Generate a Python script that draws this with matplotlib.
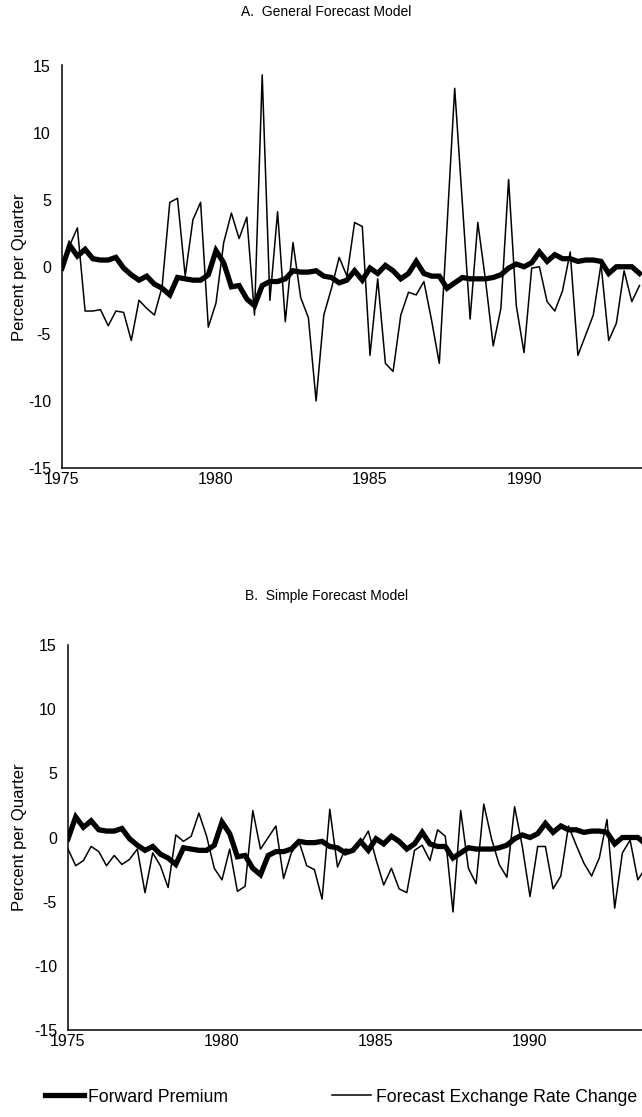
import matplotlib
matplotlib.use("Agg")
import matplotlib.pyplot as plt
import numpy as np

plt.rcParams['font.family'] = ['Liberation Sans', 'DejaVu Sans']
plt.rcParams['axes.unicode_minus'] = False

# quarterly observations, 1975Q1 .. 1993Q4
quarters = np.arange(1975, 1994, 0.25)

# forward premium (same series in both panels)
forward_premium = [
    -0.1, 1.6, 0.8, 1.3, 0.6, 0.5, 0.5, 0.7, -0.1, -0.6,
    -1.0, -0.7, -1.3, -1.6, -2.1, -0.8, -0.9, -1.0, -1.0, -0.6,
    1.2, 0.3, -1.5, -1.4, -2.4, -2.9, -1.4, -1.1, -1.1, -0.9,
    -0.3, -0.4, -0.4, -0.3, -0.7, -0.8, -1.2, -1.0, -0.3, -1.0,
    -0.1, -0.5, 0.1, -0.3, -0.9, -0.5, 0.4, -0.5, -0.7, -0.7,
    -1.6, -1.2, -0.8, -0.9, -0.9, -0.9, -0.8, -0.6, -0.1, 0.2,
    0.0, 0.3, 1.1, 0.4, 0.9, 0.6, 0.6, 0.4, 0.5, 0.5,
    0.4, -0.5, 0.0, 0.0, 0.0, -0.5,
]

# forecast exchange rate change, general forecast model
forecast_general = [
    -0.1, 1.6, 2.9, -3.3, -3.3, -3.2, -4.4, -3.3, -3.4, -5.5,
    -2.5, -3.1, -3.6, -1.5, 4.8, 5.1, -0.7, 3.5, 4.8, -4.5,
    -2.7, 1.8, 4.0, 2.1, 3.7, -3.6, 14.3, -2.5, 4.1, -4.1,
    1.8, -2.3, -3.8, -10.0, -3.6, -1.6, 0.7, -0.7, 3.3, 3.0,
    -6.6, -0.9, -7.2, -7.8, -3.6, -1.9, -2.1, -1.1, -4.0, -7.2,
    3.0, 13.3, 4.7, -3.9, 3.3, -1.0, -5.9, -3.1, 6.5, -2.9,
    -6.4, -0.1, 0.0, -2.6, -3.3, -1.8, 1.1, -6.6, -5.1, -3.6,
    0.2, -5.5, -4.2, -0.3, -2.6, -1.4,
]

# forecast exchange rate change, simple forecast model
forecast_simple = [
    -0.9, -2.2, -1.8, -0.7, -1.1, -2.2, -1.4, -2.1, -1.7, -0.9,
    -4.3, -1.2, -2.2, -3.9, 0.2, -0.3, 0.1, 1.9, 0.1, -2.4,
    -3.3, -0.9, -4.2, -3.8, 2.1, -0.9, 0.0, 0.9, -3.2, -1.2,
    -0.3, -2.2, -2.5, -4.8, 2.2, -2.3, -0.9, -1.0, -0.5, 0.5,
    -1.7, -3.7, -2.4, -4.0, -4.3, -1.0, -0.6, -1.8, 0.6, 0.1,
    -5.8, 2.1, -2.4, -3.6, 2.6, -0.1, -2.1, -3.1, 2.4, -0.7,
    -4.6, -0.7, -0.7, -4.0, -3.0, 0.9, -0.6, -2.0, -3.0, -1.6,
    1.4, -5.5, -1.2, -0.2, -3.3, -2.4,
]

year_ticks = [1975, 1980, 1985, 1990]
value_ticks = [-15, -10, -5, 0, 5, 10, 15]

W, H = 642, 1117
fig = plt.figure(figsize=(W / 100, H / 100), dpi=100)

panels = [
    ("A.  General Forecast Model", forecast_general, [62 / W, 1 - 468 / H, 1 - 62 / W, 402.5 / H], 1 - 12 / H),
    ("B.  Simple Forecast Model", forecast_simple, [68 / W, 1 - 1030 / H, 1 - 68 / W, 385 / H], 1 - 596 / H),
]

for title, forecast, rect, title_y in panels:
    ax = fig.add_axes(rect)
    ax.plot(quarters, forward_premium, color='black', lw=3.8, solid_joinstyle='miter')
    ax.plot(quarters, forecast, color='black', lw=1.1)
    ax.set_xlim(1975, 1975 + (1 - rect[0]) * W / 30.8)
    ax.set_ylim(-15, 15)
    ax.set_xticks(year_ticks)
    ax.set_yticks(value_ticks)
    ax.tick_params(length=0, labelsize=11.5)
    ax.tick_params(axis='x', pad=3)
    ax.tick_params(axis='y', pad=8)
    for side in ['top', 'right']:
        ax.spines[side].set_visible(False)
    for side in ['left', 'bottom']:
        ax.spines[side].set_linewidth(1.1)
    ax.set_ylabel('Percent per Quarter', fontsize=12)
    ax.yaxis.set_label_coords((27 - rect[0] * W) / (rect[2] * W), 0.5)
    fig.text(0.508, title_y, title, ha='center', va='center', fontsize=10)

handles = [
    plt.Line2D([], [], color='black', lw=3.8),
    plt.Line2D([], [], color='black', lw=1.1),
]
fig.legend(handles, ['Forward Premium', 'Forecast Exchange Rate Change'],
           loc='center left', bbox_to_anchor=(45 / W, 1 - 1097 / H), ncol=2,
           frameon=False, fontsize=12.7, handlelength=2.2, handletextpad=0.25,
           columnspacing=5.9, borderpad=0, borderaxespad=0)

fig.savefig('out.png', dpi=100)
